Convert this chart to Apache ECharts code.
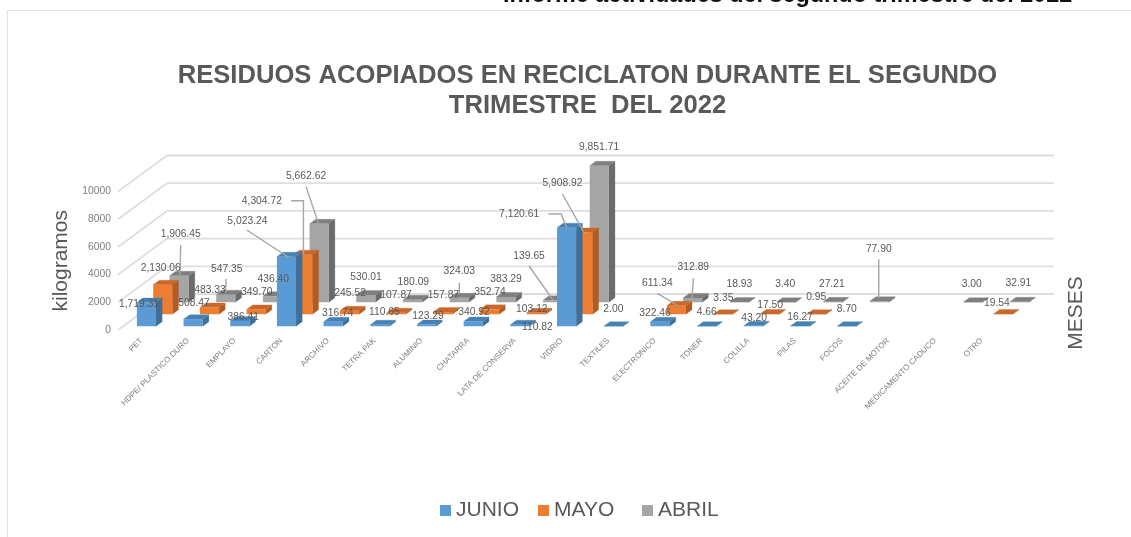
<!DOCTYPE html>
<html>
<head>
<meta charset="utf-8">
<style>html,body{margin:0;padding:0;background:#fff}#c{width:1131px;height:537px}</style>
<script src="https://cdn.jsdelivr.net/npm/echarts@6/dist/echarts.min.js"></script>
</head>
<body>
<div id="c"></div>
<script>
const categories = ['PET','HDPE/ PLASTICO DURO','EMPLAYO','CARTON','ARCHIVO','TETRA PAK','ALUMINIO','CHATARRA','LATA DE CONSERVA','VIDRIO','TEXTILES','ELECTRONICO','TONER','COLILLA','PILAS','FOCOS','ACEITE DE MOTOR','MEDICAMENTO CADUCO','OTRO'];
const junio = [1719.31,508.47,386.41,5023.24,316.74,110.65,123.29,340.92,110.82,7120.61,2.00,322.46,4.66,43.20,16.27,8.70,null,null,null];
const mayo  = [2130.06,483.33,349.70,4304.72,245.52,107.87,157.87,352.74,103.12,5908.92,null,611.34,3.35,17.50,0.95,null,null,null,19.54];
const abril = [1906.45,547.35,436.40,5662.62,530.01,180.09,324.03,383.29,139.65,9851.71,null,312.89,18.93,3.40,27.21,77.90,null,3.00,32.91];
const valueTicks = [0,2000,4000,6000,8000,10000];

// Hand placement of the data labels: offset from the top of each bar, then optional leader line points.
const junioLabels = {0:[[-7.4,1.9]],1:[[0.9,-16.5]],2:[[3.5,-3.6]],3:[[-39.1,-36],[-39.7,-26.7],[1.9,0.6]],4:[[4.6,-8.6]],5:[[4.5,-12.4]],6:[[1.5,-8.8]],7:[[0.8,-9.5]],8:[[17.5,2]],9:[[-47.5,-13.6],[-18.2,-13.6],[-5.5,-13.6],[0.2,0]],10:[[0.1,-17.2]],11:[[-4.9,-8.5]],12:[[0.1,-14.5]],13:[[0.8,-7]],14:[[0.1,-8.7]],15:[[0.1,-17.4]]};
const mayoLabels = {0:[[-2,-17]],1:[[0.6,-17.6]],2:[[0.6,-17.1]],3:[[-41,-53.3],[-11.7,-53.9],[0.6,-53.9],[0.6,0.4]],4:[[0.6,-17.6]],5:[[-0.1,-17.1]],6:[[0.5,-17.1]],7:[[0.5,-17.1]],8:[[-4.4,-3.5]],9:[[-20.5,-49.1],[-20.5,-38.4],[0.5,-0.7]],11:[[-18.9,-22.5],[-18.9,-12.5],[0.5,-0.8]],12:[[0.4,-15.9]],13:[[0.5,-9]],14:[[-0.2,-17.5]],18:[[-6.2,-11.3]]};
const abrilLabels = {0:[[1.6,-41.5],[1.6,-30.9],[0.9,-0.9]],1:[[0.9,-25.4],[0.2,-15.7],[-0.1,-1.7]],2:[[0.8,-17.2]],3:[[-13.1,-47.85],[-13.1,-37.2],[-0.8,-0.5]],4:[[0.2,-17.6]],5:[[0.8,-17.5]],6:[[0.1,-26.1],[0.1,-15.1],[0.1,-4.8]],7:[[0.1,-17.9]],8:[[-23.5,-44.3],[-23.5,-34.3],[0.8,0.4]],9:[[-0.2,-18.5]],11:[[0.7,-30.6],[0.7,-19.6],[-0.9,3.8]],12:[[0,-17.7]],13:[[-0.7,-17.9]],14:[[-0.9,-17.6]],15:[[-0.6,-52.2],[-0.6,-41.9],[-0.6,-3.2]],17:[[-1,-17.9]],18:[[-1,-18.5]]};

// Fake-3D projection: the floor recedes up and to the right.
const FLOOR_DX = 49, FLOOR_DY = 36;
const BAR_W_RATIO = 0.41, BAR_DEPTH = 0.125;
const FONT = '"Liberation Sans", Arial, sans-serif';
const palette = [
  {name:'JUNIO', front:'#5B9BD5', side:'#3C6F9C', top:'#4682B4', values:junio, labels:junioLabels, legendLeft:435},
  {name:'MAYO',  front:'#ED7D31', side:'#B35C22', top:'#C9682A', values:mayo,  labels:mayoLabels, legendLeft:533},
  {name:'ABRIL', front:'#A5A5A5', side:'#6B6B6B', top:'#7F7F7F', values:abril, labels:abrilLabels, legendLeft:637}
];
function slotOffset(s){
  const frac = s/3 + (1/3 - BAR_DEPTH)/2;
  return [FLOOR_DX*frac, FLOOR_DY*frac];
}
function poly(points, fill, z2){
  return {type:'polygon', shape:{points}, style:{fill, stroke:fill, lineWidth:0.3}, z2:z2||0};
}
function barSeries(p, s){
  return {
    name:p.name, type:'custom', coordinateSystem:'cartesian2d', clip:false, silent:true,
    z:5 - s, itemStyle:{color:p.front}, encode:{x:0,y:1},
    data:p.values.map((v,i)=>v==null?null:[i,v]).filter(Boolean),
    renderItem(params, api){
      const i = api.value(0), v = api.value(1);
      const [ox, oy] = slotOffset(s);
      const topP = api.coord([i,v]), baseP = api.coord([i,0]);
      const w = api.size([1,0])[0]*BAR_W_RATIO;
      const x0 = topP[0]+ox-w/2, x1 = x0+w;
      const yT = topP[1]-oy, yB = baseP[1]-oy;
      const ddx = FLOOR_DX*BAR_DEPTH, ddy = FLOOR_DY*BAR_DEPTH;
      return {type:'group', children:[
        poly([[x1,yB],[x1+ddx,yB-ddy],[x1+ddx,yT-ddy],[x1,yT]], p.side),
        poly([[x0,yT],[x1,yT],[x1+ddx,yT-ddy],[x0+ddx,yT-ddy]], p.top),
        {type:'rect', shape:{x:x0,y:yT,width:w,height:Math.max(yB-yT,0)}, style:{fill:p.front}}
      ]};
    }
  };
}
const labelRows = [];
palette.forEach((p,s)=>p.values.forEach((v,i)=>{ if(v!=null) labelRows.push([i,v,s]); }));
const labelSeries = {
  name:'etiquetas', type:'custom', coordinateSystem:'cartesian2d', clip:false, silent:true, z:20,
  encode:{x:0,y:1}, data:labelRows,
  renderItem(params, api){
    const i = api.value(0), v = api.value(1), s = api.value(2);
    const [ox, oy] = slotOffset(s);
    const c = api.coord([i,v]);
    const ax = c[0]+ox, ay = c[1]-oy;
    const place = (palette[s].labels[i]) || [[0,-17]];
    const kids = [];
    if(place.length>1){
      kids.push({type:'polyline', shape:{points:place.slice(1).map(q=>[ax+q[0],ay+q[1]])},
        style:{stroke:'#A6A6A6', lineWidth:1.4, fill:null}});
    }
    kids.push({type:'text', z2:5, style:{x:ax+place[0][0], y:ay+place[0][1],
      text:v.toLocaleString('en-US',{minimumFractionDigits:2,maximumFractionDigits:2}),
      font:'10.3px '+FONT, fill:'#595959', align:'center', verticalAlign:'middle'}});
    return {type:'group', children:kids};
  }
};
const wallSeries = {
  name:'paredes', type:'custom', coordinateSystem:'cartesian2d', clip:false, silent:true, z:1,
  encode:{x:0,y:1}, data:valueTicks.map(t=>[0,t]),
  renderItem(params, api){
    const g = params.coordSys;
    const y = api.coord([0,api.value(1)])[1];
    return {type:'polyline', shape:{points:[[g.x,y],[g.x+FLOOR_DX,y-FLOOR_DY],[g.x+g.width+FLOOR_DX,y-FLOOR_DY]]},
      style:{stroke:'#DEDEDE', lineWidth:1.8, fill:null}};
  }
};
const chart = echarts.init(document.getElementById('c'), null, {renderer:'canvas'});
chart.setOption({
  animation:false, backgroundColor:'#fff',
  textStyle:{fontFamily:FONT},
  title:{text:'RESIDUOS ACOPIADOS EN RECICLATON DURANTE EL SEGUNDO\nTRIMESTRE  DEL 2022',
    left:582.5, textAlign:'center', top:56,
    textStyle:{fontFamily:FONT,fontSize:25.6,fontWeight:'bold',color:'#595959',lineHeight:30}},
  legend:palette.map(p=>({data:[p.name], left:p.legendLeft, top:495, icon:'rect', itemWidth:11, itemHeight:11,
    selectedMode:false, textStyle:{fontFamily:FONT,fontSize:21,color:'#595959'}})),
  grid:{left:118, top:191.5, width:887, height:138.5, containLabel:false},
  xAxis:{type:'category', data:categories, axisLine:{show:false}, axisTick:{show:false}, splitLine:{show:false},
    axisLabel:{interval:0, rotate:45, fontSize:8, color:'#7F7F7F', margin:9.5, fontFamily:FONT}},
  yAxis:{type:'value', min:0, max:10000, interval:2000, axisLine:{show:false}, axisTick:{show:false}, splitLine:{show:false},
    name:'kilogramos', nameLocation:'middle', nameGap:41,
    nameTextStyle:{fontFamily:FONT,fontSize:21,color:'#595959'},
    axisLabel:{fontSize:10.3, color:'#7F7F7F', margin:7, fontFamily:FONT, formatter:v=>String(v)}},
  graphic:[
    {type:'line', shape:{x1:7,y1:10.5,x2:1131,y2:10.5}, style:{stroke:'#E0E0E0',lineWidth:1}, silent:true},
    {type:'line', shape:{x1:7.5,y1:10,x2:7.5,y2:537}, style:{stroke:'#E0E0E0',lineWidth:1}, silent:true},
    {type:'text', x:503, y:-16, silent:true, style:{text:'Informe actividades del segundo trimestre del 2022',
      font:'bold 23.4px '+FONT, fill:'#111'}},
    {type:'text', x:1076, y:313, rotation:Math.PI/2, silent:true, style:{text:'MESES',
      font:'21px '+FONT, fill:'#595959', align:'center', verticalAlign:'middle'}}
  ],
  series:[...palette.map(barSeries), labelSeries, wallSeries]
});
</script>
</body>
</html>
